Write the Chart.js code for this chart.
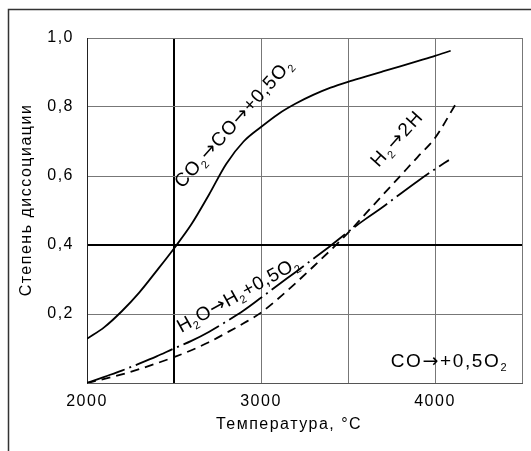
<!DOCTYPE html>
<html>
<head>
<meta charset="utf-8">
<script src="https://cdn.jsdelivr.net/npm/chart.js@4/dist/chart.umd.min.js"></script>
<style>
  body { margin: 0; background: #fff; }
  canvas { display: block; }
</style>
</head>
<body>
<canvas id="chart" width="531" height="451"></canvas>
<script>
// --- data ---
const co2Temps  = [2000, 2100, 2200, 2300, 2400, 2500, 2600, 2700, 2800, 2900, 3000, 3100, 3200, 3300, 3400, 3500, 3600, 3700, 3800, 3900, 4000, 4090];
const co2Values = [0.128, 0.162, 0.208, 0.262, 0.325, 0.39, 0.46, 0.545, 0.635, 0.70, 0.742, 0.78, 0.81, 0.835, 0.856, 0.873, 0.888, 0.903, 0.918, 0.933, 0.948, 0.963];

const h2oTemps  = [2000, 2100, 2200, 2300, 2400, 2500, 2600, 2700, 2800, 2900, 3000, 3100, 3200, 3300, 3400, 3500, 3600, 3700, 3800, 3900, 4000, 4080];
const h2oValues = [0.0, 0.018, 0.036, 0.056, 0.077, 0.10, 0.122, 0.148, 0.178, 0.21, 0.247, 0.285, 0.322, 0.36, 0.398, 0.438, 0.475, 0.51, 0.548, 0.585, 0.62, 0.646];

const h2Temps   = [2000, 2100, 2200, 2300, 2400, 2500, 2600, 2700, 2800, 2900, 3000, 3100, 3200, 3300, 3400, 3500, 3600, 3700, 3800, 3900, 4000, 4115];
const h2Values  = [0.0, 0.012, 0.025, 0.04, 0.057, 0.075, 0.095, 0.118, 0.145, 0.173, 0.204, 0.245, 0.29, 0.337, 0.385, 0.435, 0.49, 0.545, 0.60, 0.655, 0.71, 0.805];

const xLabelled   = [2000, 3000, 4000];
const yTickValues = [0.2, 0.4, 0.6, 0.8, 1.0];
const yTickLabels = ['0,2', '0,4', '0,6', '0,8', '1,0'];

const xTitle = 'Температура, °C';
const yTitle = 'Степень диссоциации';

// curve captions: [text, isSubscript] pieces, anchored in data units
const curveLabels = [
    { parts: [['CO'], ['2', 1], ['→CO→+0,5O'], ['2', 1]], t: 2547, v: 0.562, angle: -48, size: 19, length: 166 },
    { parts: [['H'], ['2', 1], ['O→H'], ['2', 1], ['+0,5O'], ['2', 1]], t: 2541, v: 0.145, angle: -29, size: 19, length: 136 },
    { parts: [['H'], ['2', 1], ['→2H']], t: 3676, v: 0.623, angle: -48, size: 19, length: 67 },
    { parts: [['CO→+0,5O'], ['2', 1]], t: 3745, v: 0.046, angle: 0, size: 19, length: 116 }
];

const FONT = '"Liberation Sans", Arial, sans-serif';
const ARROW_FONT = '"DejaVu Sans", sans-serif';

function near(a, b) { return Math.abs(a - b) < 1e-6; }

function toPoints(xs, ys) {
    return xs.map((x, i) => ({ x: x, y: ys[i] }));
}

function makeDataset(label, xs, ys, dash) {
    return {
        label: label,
        data: toPoints(xs, ys),
        borderColor: '#000',
        borderWidth: 1.8,
        borderDash: dash,
        pointRadius: 0,
        cubicInterpolationMode: 'monotone',
        fill: false
    };
}

function charFont(c, size) {
    const s = c.sub ? Math.round(size * 0.6) : size;
    return s + 'px ' + (c.ch === '→' ? ARROW_FONT : FONT);
}

// draw text with subscripts, stretched to a given length
function drawRich(ctx, parts, size, length) {
    const chars = [];
    parts.forEach(p => {
        for (const ch of p[0]) chars.push({ ch: ch, sub: !!p[1] });
    });
    let natural = 0;
    chars.forEach(c => {
        ctx.font = charFont(c, size);
        c.w = ctx.measureText(c.ch).width;
        natural += c.w;
    });
    const gap = Math.max(0, (length - natural) / (chars.length - 1));
    let x = 0;
    chars.forEach(c => {
        ctx.font = charFont(c, size);
        ctx.fillText(c.ch, x, c.sub ? size * 0.22 : 0);
        x += c.w + gap;
    });
}

const decorPlugin = {
    id: 'decor',
    beforeDraw(chart) {
        const ctx = chart.ctx;
        ctx.save();
        ctx.fillStyle = '#fff';
        ctx.fillRect(0, 0, chart.width, chart.height);
        // outer frame (left + top)
        ctx.strokeStyle = '#333';
        ctx.lineWidth = 1.5;
        ctx.beginPath();
        ctx.moveTo(8.5, chart.height);
        ctx.lineTo(8.5, 9.5);
        ctx.lineTo(chart.width, 9.5);
        ctx.stroke();
        ctx.restore();
        ctx.letterSpacing = '1.5px';
    },
    afterDraw(chart) {
        const ctx = chart.ctx;
        const xs = chart.scales.x, ys = chart.scales.y;
        ctx.save();
        ctx.fillStyle = '#000';
        ctx.letterSpacing = '1.5px';
        ctx.font = '16px ' + FONT;
        ctx.textAlign = 'center';
        ctx.textBaseline = 'alphabetic';
        ctx.fillText(xTitle, 289, 429);
        ctx.translate(27, 200);
        ctx.rotate(-Math.PI / 2);
        ctx.textBaseline = 'middle';
        ctx.fillText(yTitle, 0, 0);
        ctx.restore();

        curveLabels.forEach(l => {
            ctx.save();
            ctx.letterSpacing = '0px';
            ctx.fillStyle = '#000';
            ctx.textAlign = 'left';
            ctx.textBaseline = 'alphabetic';
            ctx.translate(xs.getPixelForValue(l.t), ys.getPixelForValue(l.v));
            ctx.rotate(l.angle * Math.PI / 180);
            drawRich(ctx, l.parts, l.size, l.length);
            ctx.restore();
        });
    }
};

new Chart(document.getElementById('chart'), {
    type: 'line',
    data: {
        datasets: [
            makeDataset('CO2 -> CO + 0,5O2', co2Temps, co2Values, []),
            makeDataset('H2O -> H2 + 0,5O2', h2oTemps, h2oValues, [40, 5, 2, 5]),
            makeDataset('H2 -> 2H', h2Temps, h2Values, [9, 6])
        ]
    },
    options: {
        responsive: false,
        animation: false,
        devicePixelRatio: 1,
        layout: { autoPadding: false, padding: { left: 0, top: 38, right: 8, bottom: 0 } },
        plugins: { legend: { display: false }, tooltip: { enabled: false } },
        scales: {
            x: {
                type: 'linear',
                min: 2000,
                max: 4500,
                afterFit: s => { s.height = 68; },
                ticks: {
                    stepSize: 500,
                    padding: 9,
                    color: '#000',
                    font: { size: 16, family: FONT },
                    callback: v => xLabelled.includes(v) ? String(v) : ''
                },
                grid: {
                    drawTicks: false,
                    color: c => near(c.tick.value, 2500) ? '#000' : '#777',
                    lineWidth: c => near(c.tick.value, 2500) ? 2 : 1
                },
                border: { color: '#555', width: 1 }
            },
            y: {
                min: 0,
                max: 1,
                afterFit: s => { s.width = 87; },
                ticks: {
                    stepSize: 0.2,
                    padding: 13,
                    color: '#000',
                    font: { size: 16, family: FONT },
                    callback: v => {
                        const i = yTickValues.findIndex(t => near(t, v));
                        return i < 0 ? '' : yTickLabels[i];
                    }
                },
                grid: {
                    drawTicks: false,
                    color: c => near(c.tick.value, 0.4) ? '#000' : '#777',
                    lineWidth: c => near(c.tick.value, 0.4) ? 2 : 1
                },
                border: { color: '#222', width: 1 }
            }
        }
    },
    plugins: [decorPlugin]
});
</script>
</body>
</html>
